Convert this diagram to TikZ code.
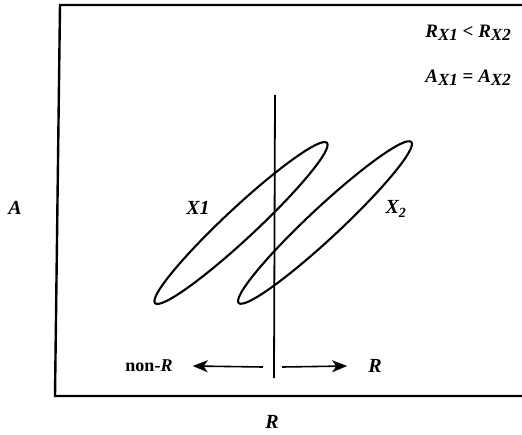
\documentclass[tikz,border=0pt]{standalone}
\usepackage{fontspec}
\setmainfont{Liberation Serif}
\usetikzlibrary{arrows.meta}
\newcommand\vbi[1]{\textbf{\textit{#1}}}
\newcommand\sbx[1]{\raisebox{-0.35ex}{\fontsize{17}{17}\selectfont\vbi{#1}}}
\tikzset{
  frame/.style={line width=2.4pt},
  curve/.style={line width=2.1pt},
  axisline/.style={line width=1.8pt},
  arr/.style={line width=1.6pt,-{Stealth[length=15pt,width=12pt,inset=4pt]}},
  lbl/.style={font=\fontsize{20}{22}\selectfont\bfseries\itshape, inner sep=0pt},
  eq/.style={font=\fontsize{19}{22}\selectfont\bfseries, inner sep=0pt, anchor=east}
}
\begin{document}
\begin{tikzpicture}[x=1pt,y=-1pt]
\useasboundingbox (0,0) rectangle (522,434);
% frame
\draw[frame] (523,5) -- (60,5) -- (55,396) -- (523,396);
% ellipses
\draw[curve,shift={(241,223)},rotate=43] (0,0) ellipse [x radius=117.5, y radius=15.5];
\draw[curve,shift={(325,222.5)},rotate=43] (0,0) ellipse [x radius=118, y radius=15.5];
% vertical divider
\coordinate (vtop) at (275,95);
\coordinate (vbot) at (274,378);
\draw[axisline] (vtop) -- (vbot);
% labels
\node[lbl] (x1) at (198,208) {X1};
\node[lbl] (x2) at (396,209) {X\textsubscript{2}};
\node[lbl] (alab) at (15,208) {A};
\node[lbl] (rlab) at (272,422) {R};
\node[font=\fontsize{18}{20}\selectfont\bfseries, inner sep=0pt] (nonr) at (149,366) {non-\textit{R}};
\node[lbl] (rr) at (375,366) {R};
% arrows
\coordinate (la) at (263,367);
\coordinate (ra) at (282,367);
\draw[arr] (la) -- ([xshift=20pt]nonr.east);
\draw[arr] (ra) -- ([xshift=-21pt]rr.west);
% relations
\node[eq] (rel1) at (511,33) {\vbi{R}\sbx{X1} {<} \vbi{R}\sbx{X2}};
\node[eq] (rel2) at (511,78) {\vbi{A}\sbx{X1} {=} \vbi{A}\sbx{X2}};
\end{tikzpicture}
\end{document}
